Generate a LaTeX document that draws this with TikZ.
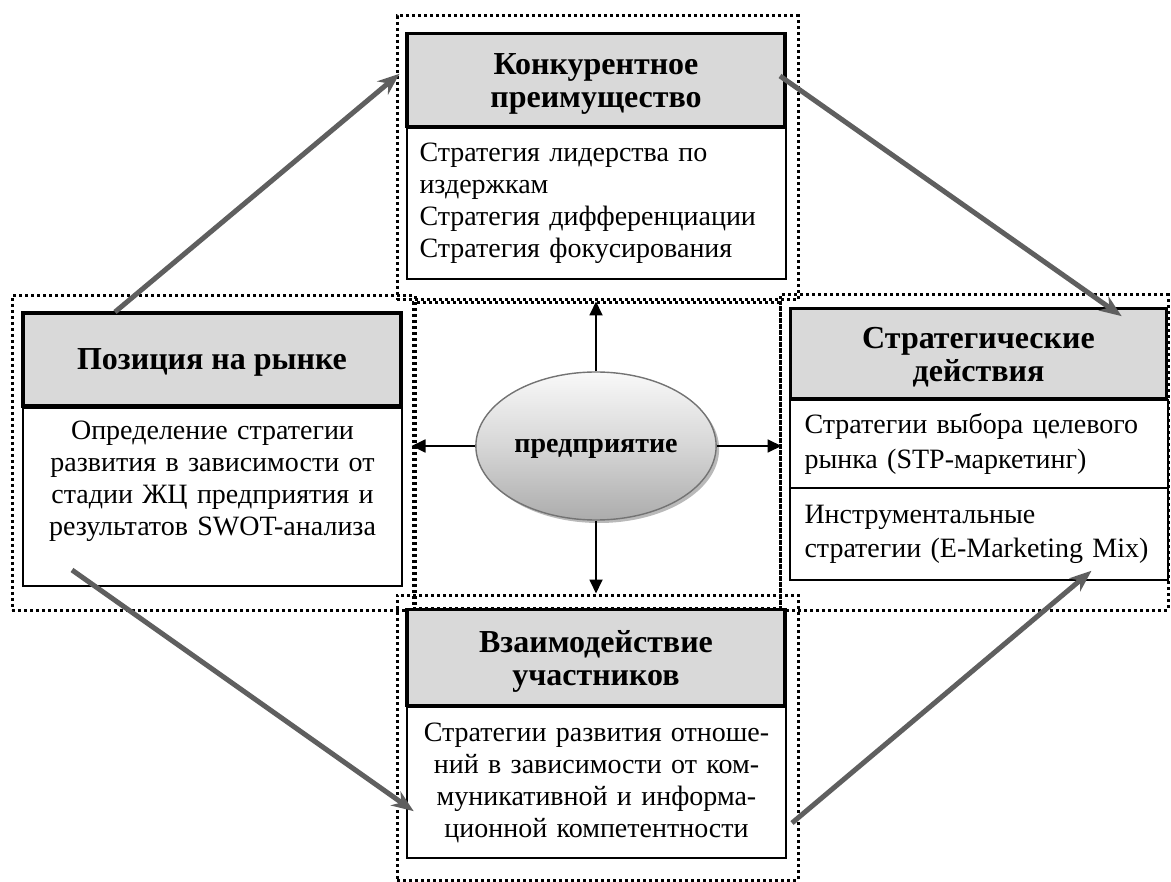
\documentclass[tikz,border=0pt]{standalone}
\usepackage{fontspec}
\setmainfont{Liberation Serif}
\usetikzlibrary{arrows.meta,shapes.geometric,shadows}
\definecolor{hdr}{HTML}{D9D9D9}
\definecolor{arr}{HTML}{5F5F5F}
\begin{document}
\begin{tikzpicture}[x=1pt,y=-1pt,
  dotbox/.style={draw, line width=3pt, dash pattern=on 3pt off 3pt, inner sep=0pt},
  hdrbox/.style={draw, fill=hdr, line width=3.8pt, inner sep=0pt},
  hdrtext/.style={inner sep=0pt, align=center, yshift=-3.5pt,
    font=\fontsize{32}{33}\selectfont\bfseries},
  bodybox/.style={draw, fill=white, line width=1.4pt, inner sep=0pt},
  bodytext/.style={inner sep=0pt, text width=366pt,
    font=\fontsize{28}{32}\selectfont},
  grayarrow/.style={draw=arr, line width=5pt, -{Stealth[length=22pt,width=17pt,inset=7pt]}, shorten >=-2pt},
  blkarrow/.style={draw=black, line width=1.8pt, -{Triangle[length=14pt,width=13pt]}},
]
\useasboundingbox (0,0) rectangle (1171,882);

% dotted groups
\node[dotbox, minimum width=401, minimum height=284] (tgrp) at (597.5,158) {};
\node[dotbox, minimum width=403, minimum height=314] (lgrp) at (213.5,453) {};
\node[dotbox, minimum width=388, minimum height=315] (rgrp) at (974,452.5) {};
\node[dotbox, minimum width=367, minimum height=305] (cgrp) at (596.5,455.5) {};
\node[dotbox, minimum width=401, minimum height=285] (bgrp) at (597.5,737.5) {};

% top block
\node[bodybox, minimum width=379, minimum height=151] (tb) at (596.5,203.5) {};
\node[bodytext, align=left, anchor=west, xshift=13pt] (tbt) at (tb.west) {Стратегия лидерства по\\издержкам\\Стратегия дифференциации\\Стратегия фокусирования};
\node[hdrbox, minimum width=378, minimum height=93] (th) at (596,80) {};
\node[hdrtext] (tht) at (th.center) {Конкурентное\\преимущество};

% left block
\node[bodybox, minimum width=379, minimum height=178] (lb) at (212.5,497) {};
\node[bodytext, align=center, anchor=north, yshift=-13pt] (lbt) at (lb.north) {Определение стратегии\\развития в зависимости от\\стадии ЖЦ предприятия и\\результатов SWOT-анализа};
\node[hdrbox, minimum width=378, minimum height=93] (lh) at (212,359.5) {};
\node[hdrtext, yshift=1pt] (lht) at (lh.center) {Позиция на рынке};

% right block
\node[bodybox, minimum width=378, minimum height=88] (rb1) at (979,444) {};
\node[bodytext, align=left, anchor=west, xshift=15pt, font=\fontsize{28}{35}\selectfont] (rb1t) at (rb1.west) {Стратегии выбора целевого\\рынка (STP-маркетинг)};
\node[bodybox, minimum width=378, minimum height=92] (rb2) at (979,534) {};
\node[bodytext, align=left, anchor=west, xshift=15pt, font=\fontsize{28}{34}\selectfont] (rb2t) at (rb2.west) {Инструментальные\\стратегии (E-Marketing Mix)};
\node[hdrbox, minimum width=376, minimum height=90] (rh) at (978.5,353.5) {};
\node[hdrtext] (rht) at (rh.center) {Стратегические\\действия};

% bottom block
\node[bodybox, minimum width=379, minimum height=151] (bb) at (596.5,782.5) {};
\node[bodytext, align=center] (bbt) at (bb.center) {Стратегии развития отноше-\\ний в зависимости от ком-\\муникативной и информа-\\ционной компетентности};
\node[hdrbox, minimum width=378, minimum height=96] (bh) at (596,657.5) {};
\node[hdrtext] (bht) at (bh.center) {Взаимодействие\\участников};

% centre
\node[ellipse, draw=gray!90!black, line width=1.4pt, minimum width=238, minimum height=148,
  top color=gray!5, bottom color=gray!65, middle color=gray!32,
  drop shadow={shadow xshift=3pt, shadow yshift=-3pt, fill=gray!55, opacity=1},
  text height=13pt, text depth=0pt,
  font=\fontsize{28}{32}\selectfont\bfseries] (ent) at (596,446) {предприятие};

\draw[blkarrow] (ent.north) -- (ent.north |- cgrp.north);
\draw[blkarrow] (ent.south) -- (ent.south |- bgrp.north);
\draw[blkarrow] (ent.west) -- (ent.west -| cgrp.west);
\draw[blkarrow] (ent.east) -- (ent.east -| cgrp.east);

% gray connectors
\coordinate (a1s) at (115,312);
\coordinate (a1e) at (398,75);
\coordinate (a2s) at (780,76);
\coordinate (a2e) at (1120,315);
\coordinate (a3s) at (72,570);
\coordinate (a3e) at (412,810);
\coordinate (a4s) at (792,823);
\coordinate (a4e) at (1090,572);
\draw[grayarrow] (a1s) -- (a1e);
\draw[grayarrow] (a2s) -- (a2e);
\draw[grayarrow] (a3s) -- (a3e);
\draw[grayarrow] (a4s) -- (a4e);
\end{tikzpicture}
\end{document}
